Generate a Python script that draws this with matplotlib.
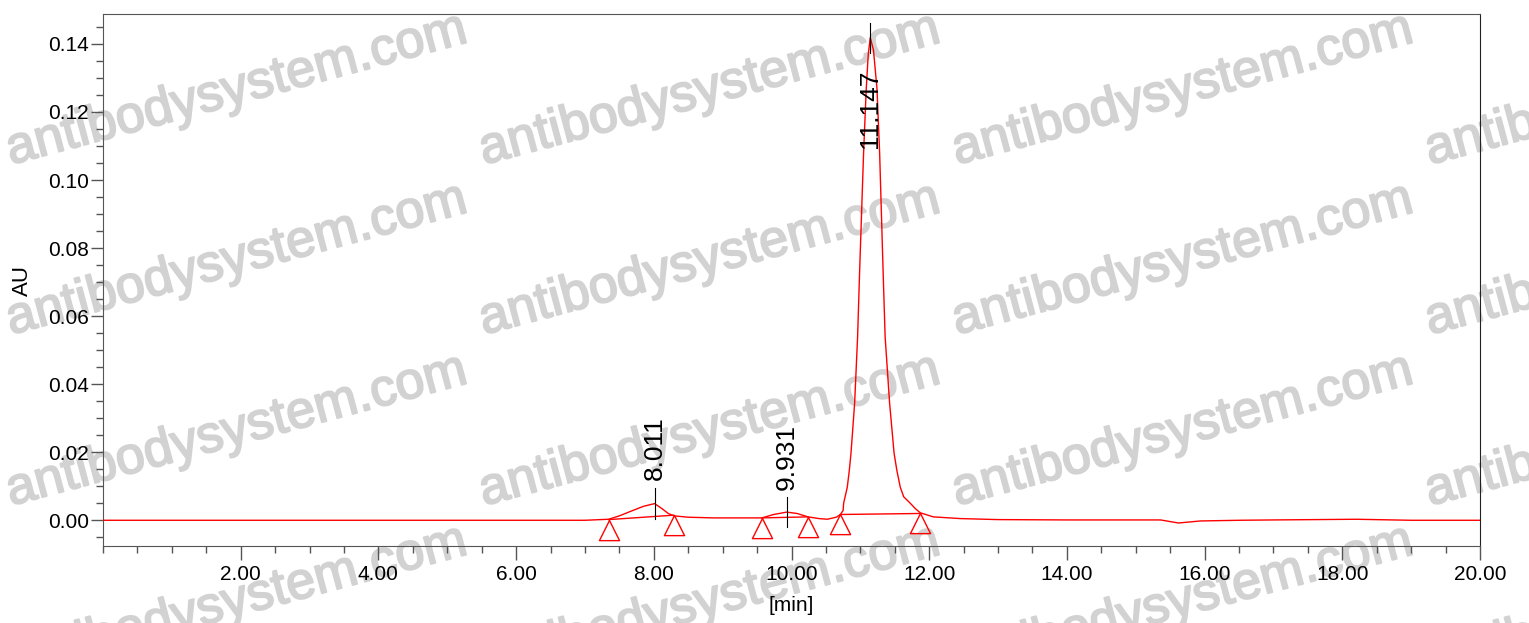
import numpy as np
import matplotlib
matplotlib.use("Agg")
import matplotlib.pyplot as plt
import matplotlib.patheffects as pe
from matplotlib.ticker import MultipleLocator, FixedLocator, FormatStrFormatter

plt.rcParams["font.family"] = ["Liberation Sans", "DejaVu Sans"]

# chromatogram trace (time in min, absorbance in AU)
time_min = [0.0, 1.0, 2.0, 3.0, 4.0, 5.0, 6.0, 7.0, 7.345, 7.5, 7.66, 7.85, 8.011,
            8.12, 8.21, 8.29, 8.5, 8.86, 9.3, 9.57, 9.74, 9.931, 10.08, 10.24, 10.4,
            10.52, 10.65, 10.71, 10.75, 10.757, 10.81, 10.84, 10.864, 10.917, 10.96, 10.99, 11.047,
            11.086, 11.115, 11.144, 11.19, 11.241, 11.28, 11.33, 11.36, 11.425, 11.49,
            11.53, 11.58, 11.63, 11.725, 11.80, 11.87, 12.06, 12.45, 13.0, 14.0, 15.0, 15.36,
            15.62, 15.94, 16.5, 17.0, 18.2, 19.0, 20.0]
absorb_au = [0.0, 0.0, 0.0, 0.0, 0.0, 0.0, 0.0, 0.0, 0.0003, 0.0013, 0.0026, 0.0041, 0.0049,
             0.0034, 0.002, 0.0013, 0.0009, 0.0007, 0.0007, 0.0007, 0.0017, 0.0024, 0.002, 0.001, 0.0005,
             0.0003, 0.0009, 0.0017, 0.0029, 0.005, 0.0097, 0.0147, 0.0197, 0.0344, 0.0539, 0.0735, 0.108,
             0.127, 0.137, 0.1418, 0.1383, 0.127, 0.108, 0.0735, 0.0539, 0.0344, 0.0197,
             0.0147, 0.0097, 0.0069, 0.005, 0.0034, 0.0022, 0.001, 0.0005, 0.0002, 0.0001, 0.0001, 0.0001,
             -0.0008, -0.0002, 0.0, 0.0001, 0.0003, 0.0, 0.0]

# integration baselines (start/end of each peak)
base_start_t = [7.345, 9.57, 10.71]
base_start_y = [0.0002, 0.0007, 0.0017]
base_end_t = [8.29, 10.24, 11.87]
base_end_y = [0.0015, 0.001, 0.002]

# retention time labels
peak_times = [8.011, 9.931, 11.147]
peak_names = ["8.011", "9.931", "11.147"]
tick_top = [0.0094, 0.0069, 0.1462]
tick_bottom = [0.0003, -0.002, 0.1374]
label_bottom = [0.0118, 0.0088, 0.1094]

W, H = 1529, 623
fig = plt.figure(figsize=(W / 100, H / 100), dpi=100)
ax = fig.add_axes([103 / W, 1 - 546 / H, 1377 / W, 532 / H])
ax.patch.set_alpha(0)

ax.plot(time_min, absorb_au, color="#ff0000", lw=1.0, zorder=3)

for t0, y0, t1, y1 in zip(base_start_t, base_start_y, base_end_t, base_end_y):
    ax.plot([t0, t1], [y0, y1], color="#ff0000", lw=1.0, zorder=3)

# open triangles hanging below each baseline point
tri = [(0, 0), (-0.5, -1), (0.5, -1), (0, 0)]
ax.plot(base_start_t + base_end_t, base_start_y + base_end_y, ls="none", marker=tri,
        ms=29, mfc="none", mec="#ff0000", mew=1.0, zorder=3)

for t, name, ytop, ybot, ylab in zip(peak_times, peak_names, tick_top, tick_bottom, label_bottom):
    ax.plot([t, t], [ybot, ytop], color="black", lw=0.8, zorder=4)
    ax.text(t, ylab, name, rotation=90, ha="center", va="bottom", fontsize=19, zorder=5)

ax.set_xlim(0, 20)
ax.set_ylim(-0.00756, 0.1488)
ax.xaxis.set_major_locator(FixedLocator(np.arange(2, 20.1, 2)))
ax.xaxis.set_minor_locator(MultipleLocator(0.5))
ax.xaxis.set_major_formatter(FormatStrFormatter("%.2f"))
ax.yaxis.set_major_locator(MultipleLocator(0.02))
ax.yaxis.set_minor_locator(MultipleLocator(0.005))
ax.yaxis.set_major_formatter(FormatStrFormatter("%.2f"))

ax.tick_params(which="major", axis="x", length=10, width=1, color="#555555", labelsize=15, pad=4)
ax.tick_params(which="minor", axis="x", length=5, width=1, color="#555555")
ax.tick_params(which="major", axis="y", length=9, width=1, color="#555555", labelsize=15, pad=1)
ax.tick_params(which="minor", axis="y", length=5, width=1, color="#555555")
for side in ["left", "bottom", "top"]:
    ax.spines[side].set_color("#555555")
ax.spines["right"].set_color("#222222")

ax.set_xlabel("[min]", fontsize=15, va="top")
ax.xaxis.set_label_coords(0.5, -0.094)
ax.set_ylabel("AU", fontsize=16)
ax.yaxis.set_label_coords(-0.0508, 0.5)

# watermark grid, drawn behind the axes
wm_cols = [237, 710, 1183, 1656]
wm_rows = [90, 260, 431, 602]
wm_color = "#d2d2d2"
for cy in wm_rows:
    for cx in wm_cols:
        fig.text(cx / W, 1 - cy / H, "antibodysystem.com", fontsize=37.5, color=wm_color,
                 rotation=15, rotation_mode="anchor", ha="center", va="center", zorder=-1,
                 path_effects=[pe.withStroke(linewidth=1.4, foreground=wm_color)])

fig.savefig("out.png", dpi=100)
